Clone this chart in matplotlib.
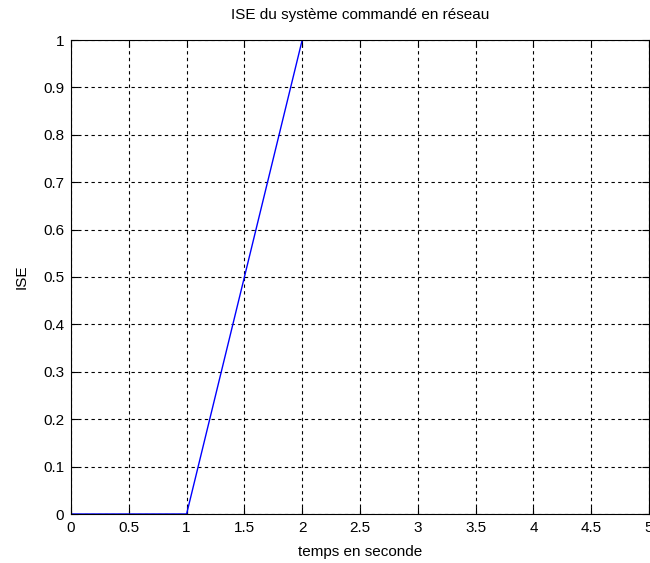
import matplotlib
matplotlib.use('Agg')
import matplotlib.pyplot as plt
import numpy as np

# ISE curve
t = [0, 1, 2]
ise = [0, 0, 1]

xticks = [0, 0.5, 1, 1.5, 2, 2.5, 3, 3.5, 4, 4.5, 5]
yticks = [0, 0.1, 0.2, 0.3, 0.4, 0.5, 0.6, 0.7, 0.8, 0.9, 1]
xlabels = ['0', '0.5', '1', '1.5', '2', '2.5', '3', '3.5', '4', '4.5', '5']
ylabels = ['0', '0.1', '0.2', '0.3', '0.4', '0.5', '0.6', '0.7', '0.8', '0.9', '1']

plt.rcParams['font.family'] = ['Liberation Sans Narrow', 'Liberation Sans', 'DejaVu Sans']
plt.rcParams['font.size'] = 11

fig = plt.figure(figsize=(6.5, 5.63), dpi=100, facecolor='w')
ax = fig.add_axes([71/650, 1 - 514/563, 578/650, (514 - 40)/563])

ax.plot(t, ise, color='blue', linewidth=1.0)
ax.set_xlim(0, 5)
ax.set_ylim(0, 1)
ax.set_xticks(xticks)
ax.set_yticks(yticks)
ax.set_xticklabels(xlabels)
ax.set_yticklabels(ylabels)
ax.grid(True, color='black', linestyle=(0, (3, 3)), linewidth=0.8)
ax.tick_params(direction='in', top=True, right=True, length=5, width=0.8, pad=5)
for s in ax.spines.values():
    s.set_linewidth(0.8)

ax.set_title('ISE du système commandé en réseau', fontsize=11, pad=15)
ax.set_xlabel('temps en seconde', fontsize=11, labelpad=7)
ax.set_ylabel('ISE', fontsize=11, labelpad=10)

fig.savefig('out.png', dpi=100, facecolor='w')
